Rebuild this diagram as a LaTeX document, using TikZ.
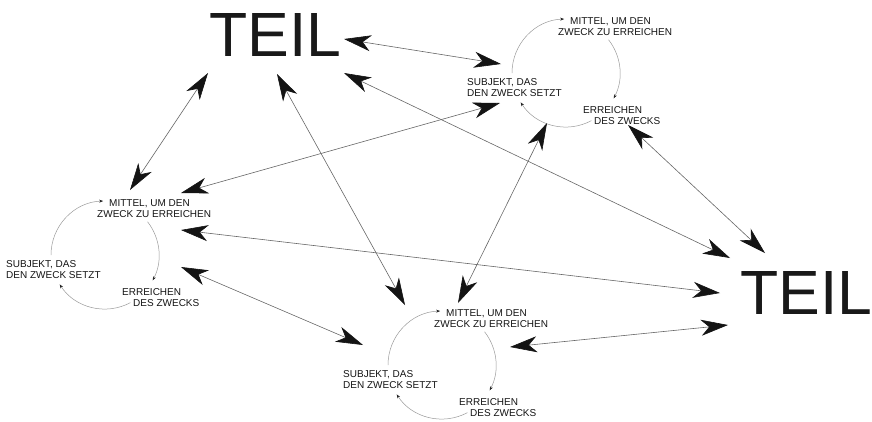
\documentclass[tikz,border=0pt]{standalone}
\usepackage{fontspec}
\setmainfont{Liberation Sans}
\usetikzlibrary{arrows.meta}
\begin{document}
\begin{tikzpicture}[x=1pt,y=-1pt,
  bighead/.tip={Stealth[length=27pt,width=16pt,inset=8pt,color=black!92]},
  conn/.style={draw=black!60, line width=0.6pt, bighead-bighead},
  ring/.style={draw=black!40, line width=0.5pt, -{Stealth[length=4pt,width=3pt,color=black!85]}},
  small/.style={font=\fontsize{10}{11.5}\selectfont, text=black!92, inner sep=0pt, anchor=north west, align=left},
  big/.style={font=\fontsize{62.5}{62.5}\selectfont, text=black!90, inner sep=0pt, anchor=north west},
  zyklus/.pic={
    \node[small] (-m) at (-8,-56) {\hspace*{12pt}MITTEL, UM DEN\\ZWECK ZU ERREICHEN};
    \node[small] (-s) at (-99,5) {SUBJEKT, DAS\\DEN ZWECK SETZT};
    \node[small] (-e) at (17,33) {ERREICHEN\\\hspace*{11pt}DES ZWECKS};
    \draw[ring] (-180:54) arc[start angle=-180,end angle=-92,radius=54];
    \draw[ring] (-38:54) arc[start angle=-38,end angle=28,radius=54];
    \draw[ring] (62:54) arc[start angle=62,end angle=147,radius=54];
  }]
\useasboundingbox (0,0) rectangle (872,421);
\node[big] (teilA) at (209,13) {TEIL};
\node[big] (teilB) at (740,271) {TEIL};
\pic (zr) at (566,73) {zyklus};
\pic (zl) at (105,255) {zyklus};
\pic (zb) at (442,365) {zyklus};
% connector end points
\coordinate (c1a) at (344,39);  \coordinate (c1b) at (501,64);
\coordinate (c2a) at (208,73);  \coordinate (c2b) at (130,190);
\coordinate (c3a) at (277,74);  \coordinate (c3b) at (405,305);
\coordinate (c4a) at (344,73);  \coordinate (c4b) at (730,258);
\coordinate (c5a) at (500,103); \coordinate (c5b) at (181,193);
\coordinate (c6a) at (547,123); \coordinate (c6b) at (458,303);
\coordinate (c7a) at (628,125); \coordinate (c7b) at (765,253);
\coordinate (c8a) at (181,230); \coordinate (c8b) at (720,293);
\coordinate (c9a) at (181,267); \coordinate (c9b) at (363,345);
\coordinate (c10a) at (510,347); \coordinate (c10b) at (728,325);
\draw[conn] (c1a) -- (c1b);
\draw[conn] (c2a) -- (c2b);
\draw[conn] (c3a) -- (c3b);
\draw[conn] (c4a) -- (c4b);
\draw[conn] (c5a) -- (c5b);
\draw[conn] (c6a) -- (c6b);
\draw[conn] (c7a) -- (c7b);
\draw[conn] (c8a) -- (c8b);
\draw[conn] (c9a) -- (c9b);
\draw[conn] (c10a) -- (c10b);
\end{tikzpicture}
\end{document}
